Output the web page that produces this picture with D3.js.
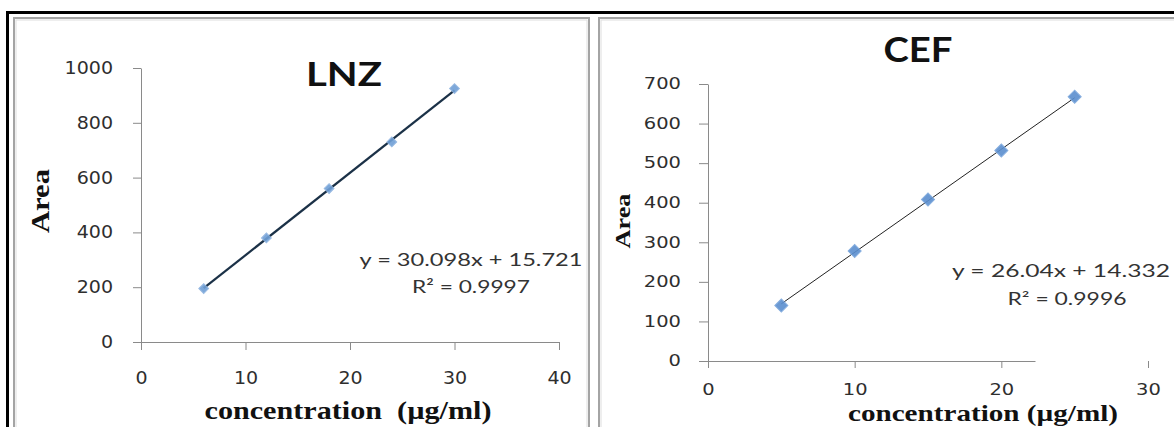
<!DOCTYPE html>
<html>
<head>
<meta charset="utf-8">
<script src="https://cdn.jsdelivr.net/npm/d3@7"></script>
<style>
  body { margin: 0; background: #fff; }
  svg { display: block; }
</style>
</head>
<body>
<svg id="chart" width="1174" height="427"></svg>
<script>
// ---- LNZ calibration ----
const lnzConc = [6, 12, 18, 24, 30];
const lnzArea = [195, 380, 560, 730, 925];
const lnzSlope = "30.098";
const lnzIntercept = "15.721";
const lnzR2 = "0.9997";
const lnzXTicks = [0, 10, 20, 30, 40];
const lnzYTicks = [0, 200, 400, 600, 800, 1000];

// ---- CEF calibration ----
const cefConc = [5, 10, 15, 20, 25];
const cefArea = [140, 278, 408, 532, 668];
const cefSlope = "26.04";
const cefIntercept = "14.332";
const cefR2 = "0.9996";
const cefXTicks = [0, 10, 20, 30];
const cefYTicks = [0, 100, 200, 300, 400, 500, 600, 700];

const svg = d3.select("#chart");

// outer black frame (top and left edges)
svg.append("path")
  .attr("d", "M7.5,430V12.5H1180")
  .attr("fill", "none").attr("stroke", "#000").attr("stroke-width", 3);

// grey panel borders
function panelBorder(x0, x1) {
  svg.append("rect").attr("x", x0).attr("y", 18).attr("width", x1 - x0).attr("height", 430)
    .attr("fill", "none").attr("stroke", "#a4a4a4").attr("stroke-width", 2);
  svg.append("rect").attr("x", x0 + 2).attr("y", 20).attr("width", x1 - x0 - 4).attr("height", 430)
    .attr("fill", "none").attr("stroke", "#dedede").attr("stroke-width", 1);
}
panelBorder(14, 589);
panelBorder(599, 1190);

function drawPanel(cfg) {
  const x = d3.scaleLinear().domain(cfg.xDomain).range(cfg.xRange);
  const y = d3.scaleLinear().domain(cfg.yDomain).range(cfg.yRange);
  const g = svg.append("g");
  const fmt = d3.format("d");

  // y axis
  const yAxis = g.append("g")
    .attr("transform", `translate(${x(0)},0)`)
    .call(d3.axisLeft(y).tickValues(cfg.yTicks).tickFormat(fmt).tickSize(cfg.yTickSize)
      .tickSizeOuter(0).tickPadding(cfg.yPad));
  // x axis
  const xAxis = g.append("g")
    .attr("transform", `translate(0,${y(0)})`)
    .call(d3.axisBottom(x).tickValues(cfg.xTicks).tickFormat(fmt).tickSize(cfg.xTickSize)
      .tickSizeOuter(0).tickPadding(cfg.xPad));

  [yAxis, xAxis].forEach(a => {
    a.select(".domain").attr("stroke", "#8a8a8a");
    a.selectAll(".tick line").attr("stroke", "#8a8a8a");
    a.selectAll("text")
      .attr("font-family", "DejaVu Sans")
      .attr("font-size", cfg.tickFont)
      .attr("fill", "#2e2e2e");
  });
  // widen tick labels horizontally
  yAxis.selectAll("text").each(function () {
    const t = d3.select(this);
    t.attr("x", +t.attr("x") / cfg.tickStretch)
      .attr("transform", `scale(${cfg.tickStretch},1)`);
  });
  xAxis.selectAll("text").attr("transform", `scale(${cfg.tickStretch},1)`);
  if (cfg.xDomainVisible) {
    xAxis.select(".domain").attr("stroke-dasharray", `${cfg.xDomainVisible} 2000`);
  }

  // trendline from the fitted equation
  const slope = +cfg.slope, icpt = +cfg.intercept;
  const xs = [d3.min(cfg.conc), d3.max(cfg.conc)];
  g.append("line")
    .attr("x1", x(xs[0])).attr("y1", y(slope * xs[0] + icpt))
    .attr("x2", x(xs[1])).attr("y2", y(slope * xs[1] + icpt))
    .attr("stroke", cfg.lineColor).attr("stroke-width", cfg.lineWidth);

  // markers (diamonds)
  const sym = d3.symbol().type(d3.symbolSquare).size(cfg.markerSize);
  g.selectAll("path.pt").data(cfg.conc.map((c, i) => [c, cfg.area[i]]))
    .join("path").attr("class", "pt")
    .attr("d", sym)
    .attr("transform", d => `translate(${x(d[0])},${y(d[1])}) rotate(45)`)
    .attr("fill", cfg.markerFill).attr("stroke", cfg.markerStroke).attr("stroke-width", 1)
    .attr("opacity", 0.9);

  // title
  g.append("text")
    .attr("x", cfg.title.x).attr("y", cfg.title.y)
    .attr("text-anchor", "middle")
    .attr("font-family", "Lato").attr("font-weight", 700)
    .attr("font-size", cfg.title.size)
    .attr("textLength", cfg.title.len).attr("lengthAdjust", "spacingAndGlyphs")
    .attr("fill", "#111").text(cfg.title.text);

  // axis titles
  g.append("text")
    .attr("transform", `translate(${cfg.yLab.x},${cfg.yLab.y}) rotate(-90)`)
    .attr("text-anchor", "middle")
    .attr("font-family", "Liberation Serif").attr("font-weight", 700)
    .attr("font-size", cfg.yLab.size)
    .attr("textLength", cfg.yLab.len).attr("lengthAdjust", "spacingAndGlyphs")
    .attr("fill", "#111").text("Area");
  g.append("text")
    .attr("x", cfg.xLab.x).attr("y", cfg.xLab.y)
    .attr("text-anchor", "middle")
    .attr("font-family", "Liberation Serif").attr("font-weight", 700)
    .attr("font-size", cfg.xLab.size)
    .attr("textLength", cfg.xLab.len).attr("lengthAdjust", "spacingAndGlyphs")
    .attr("fill", "#111").text(cfg.xLab.text);

  // regression equation and R²
  const eq = [
    { s: `y = ${cfg.slope}x + ${cfg.intercept}`, p: cfg.eq[0] },
    { s: `R\u00B2 = ${cfg.r2}`, p: cfg.eq[1] }
  ];
  eq.forEach(e => {
    g.append("text")
      .attr("x", e.p.x).attr("y", e.p.y)
      .attr("text-anchor", "middle")
      .attr("font-family", "Lato").attr("font-size", e.p.size)
      .attr("textLength", e.p.len).attr("lengthAdjust", "spacingAndGlyphs")
      .attr("fill", "#333").text(e.s);
  });
}

drawPanel({
  conc: lnzConc, area: lnzArea, slope: lnzSlope, intercept: lnzIntercept, r2: lnzR2,
  xDomain: [0, 40], yDomain: [0, 1000], xTicks: lnzXTicks, yTicks: lnzYTicks,
  xRange: [141, 559], yRange: [342, 68],
  yTickSize: 8, yPad: 20, xTickSize: 8, xPad: 22,
  tickFont: 17, tickStretch: 1.12,
  lineColor: "#1b3147", lineWidth: 2.2,
  markerSize: 48, markerFill: "#6f9fd6", markerStroke: "#8fb4e0",
  title: { text: "LNZ", x: 344, y: 86, size: 32, len: 76 },
  yLab: { x: 49, y: 201, size: 26, len: 64 },
  xLab: { text: "concentration\u00A0 (µg/ml)", x: 348, y: 419, size: 25, len: 287 },
  eq: [{ x: 471, y: 266, size: 18, len: 223 }, { x: 471, y: 293, size: 18, len: 118 }]
});

drawPanel({
  conc: cefConc, area: cefArea, slope: cefSlope, intercept: cefIntercept, r2: cefR2,
  xDomain: [0, 30], yDomain: [0, 700], xTicks: cefXTicks, yTicks: cefYTicks,
  xRange: [708, 1148], yRange: [361, 84],
  yTickSize: 9, yPad: 18, xTickSize: 7, xPad: 16,
  tickFont: 15, tickStretch: 1.3,
  lineColor: "#222", lineWidth: 1,
  markerSize: 85, markerFill: "#5b8fcf", markerStroke: "#7aa6dc",
  xDomainVisible: 327,
  title: { text: "CEF", x: 918, y: 62, size: 34, len: 69 },
  yLab: { x: 630, y: 221, size: 22, len: 55 },
  xLab: { text: "concentration (µg/ml)", x: 983, y: 421, size: 23, len: 270 },
  eq: [{ x: 1061, y: 277, size: 17, len: 218 }, { x: 1067, y: 305, size: 17, len: 119 }]
});
</script>
</body>
</html>
